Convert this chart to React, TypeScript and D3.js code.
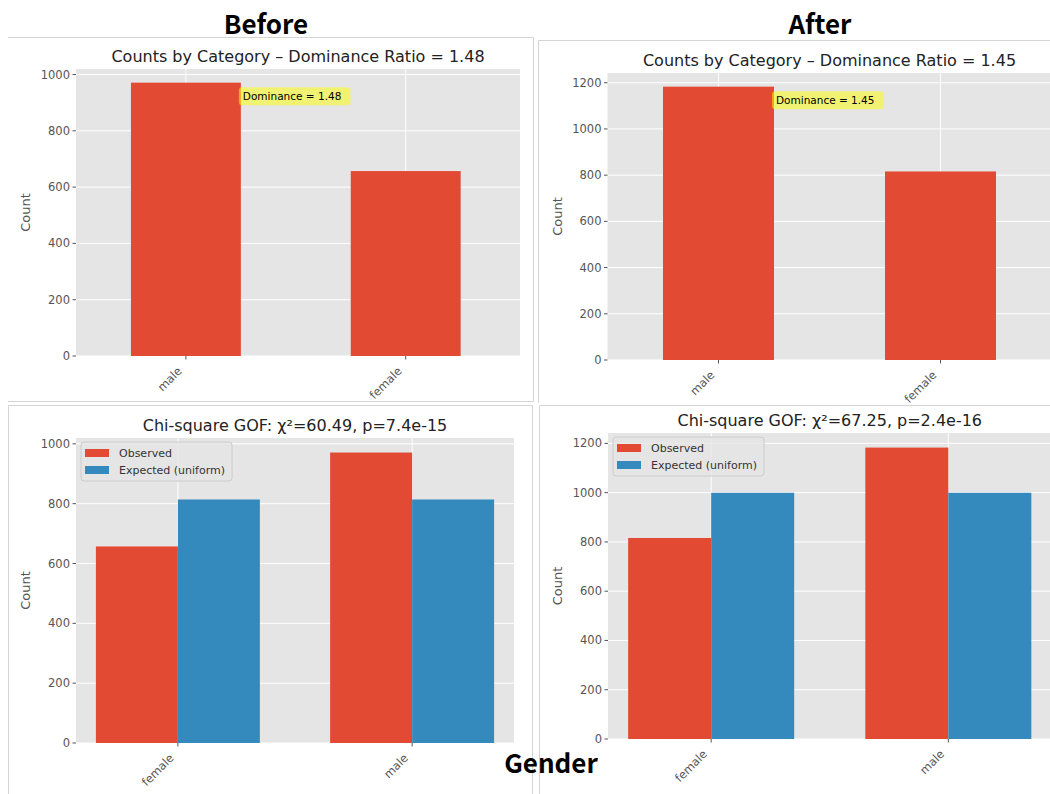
import * as d3 from "d3";

// counts by gender, before and after
const topCategories = ["male", "female"];
const beforeCounts = [971, 657];
const afterCounts = [1183, 816];

// chi-square panels (sorted alphabetically)
const chiCategories = ["female", "male"];
const beforeObserved = [657, 971];
const beforeExpected = [814, 814];
const afterObserved = [816, 1183];
const afterExpected = [999.5, 999.5];

const seriesNames = ["Observed", "Expected (uniform)"];
const colors = ["#E24A33", "#348ABD"];

const beforeRatio = "1.48";
const afterRatio = "1.45";
const beforeChi = "Chi-square GOF: χ²=60.49, p=7.4e-15";
const afterChi = "Chi-square GOF: χ²=67.25, p=2.4e-16";

const FONT = "DejaVu Sans, sans-serif";
const HEAD_FONT = "'Noto Sans CJK SC', 'Noto Sans', sans-serif";

type Box = { left: number; right: number; top: number; bottom: number };

type PanelProps = {
  categories: string[];
  series: number[][];
  title: string;
  box: Box;
  xDomain: [number, number];
  barWidth: number;
  annotation?: string;
  legend?: boolean;
};

function BarPanel({ categories, series, title, box, xDomain, barWidth, annotation, legend }: PanelProps) {
  const x = d3.scaleLinear().domain(xDomain).range([box.left, box.right]);
  const vmax = d3.max(series.flat()) as number;
  const y = d3.scaleLinear().domain([0, vmax * 1.05]).range([box.bottom, box.top]);
  const ticks = y.ticks(5);
  const n = series.length;
  const offset = (j: number) => (j - (n - 1) / 2) * barWidth;
  const unit = x(1) - x(0);

  let ann = null;
  if (annotation) {
    const ax = x(barWidth / 2);
    const ay = y(vmax * 0.95);
    const w = annotation.length * 6.6 + 6;
    ann = (
      <g>
        <rect x={ax - 2} y={ay - 9} width={w} height={18} rx={3} fill="yellow" fillOpacity={0.5} />
        <text x={ax + 2} y={ay} dy="0.35em" fontSize={10.5} fill="#000">
          {annotation}
        </text>
      </g>
    );
  }

  return (
    <g fontFamily={FONT}>
      <rect x={box.left} y={box.top} width={box.right - box.left} height={box.bottom - box.top} fill="#E5E5E5" />
      {ticks.map((t) => (
        <line key={"h" + t} x1={box.left} x2={box.right} y1={y(t)} y2={y(t)} stroke="#fff" strokeWidth={1} />
      ))}
      {categories.map((c, i) => (
        <line key={"v" + c} x1={x(i)} x2={x(i)} y1={box.top} y2={box.bottom} stroke="#fff" strokeWidth={1} />
      ))}
      {series.map((vals, j) =>
        vals.map((v, i) => (
          <rect
            key={j + "-" + i}
            x={x(i + offset(j) - barWidth / 2)}
            y={y(v)}
            width={barWidth * unit}
            height={y(0) - y(v)}
            fill={colors[j]}
          />
        ))
      )}
      {/* y axis */}
      {ticks.map((t) => (
        <g key={"yt" + t}>
          <line x1={box.left - 3.5} x2={box.left} y1={y(t)} y2={y(t)} stroke="#555" />
          <text x={box.left - 6} y={y(t)} dy="0.35em" textAnchor="end" fontSize={11.5} fill="#555">
            {t}
          </text>
        </g>
      ))}
      <text
        transform={`translate(${box.left - 46},${(box.top + box.bottom) / 2}) rotate(-90)`}
        textAnchor="middle"
        fontSize={13}
        fill="#555"
      >
        Count
      </text>
      {/* x axis */}
      {categories.map((c, i) => (
        <g key={"xt" + c}>
          <line x1={x(i)} x2={x(i)} y1={box.bottom} y2={box.bottom + 3.5} stroke="#555" />
          <text
            transform={`translate(${x(i) - 9},${box.bottom + 10}) rotate(-45)`}
            textAnchor="end"
            dy="0.7em"
            fontSize={11.5}
            fill="#555"
          >
            {c}
          </text>
        </g>
      ))}
      <text x={(box.left + box.right) / 2} y={box.top - 7} textAnchor="middle" fontSize={16} fill="#222">
        {title}
      </text>
      {ann}
      {legend && (
        <g transform={`translate(${box.left + 5},${box.top + 4})`}>
          <rect width={151} height={39} rx={3} fill="#E5E5E5" fillOpacity={0.8} stroke="#ccc" />
          {seriesNames.map((s, j) => (
            <g key={s} transform={`translate(0,${7 + j * 17})`}>
              <rect x={4} y={0} width={24} height={8} fill={colors[j]} />
              <text x={38} y={4} dy="0.35em" fontSize={11} fill="#333">
                {s}
              </text>
            </g>
          ))}
        </g>
      )}
    </g>
  );
}

export default function App() {
  return (
    <svg width={1050} height={794} style={{ position: "absolute", left: 0, top: 0, background: "#fff" }}>
      {/* panel frames */}
      <g fill="none" stroke="#d4d4d4" strokeWidth={1}>
        <path d="M8,37.5H533.5V401.5H8" />
        <path d="M1051,40.5H538.5V403" />
        <path d="M8.5,800V405.5H532.5V800" />
        <path d="M539.5,800V405.5H1051" />
      </g>

      <BarPanel
        categories={topCategories}
        series={[beforeCounts]}
        title={`Counts by Category – Dominance Ratio = ${beforeRatio}`}
        box={{ left: 76, right: 520, top: 69, bottom: 356 }}
        xDomain={[-0.5, 1.52]}
        barWidth={0.5}
        annotation={`Dominance = ${beforeRatio}`}
      />
      <BarPanel
        categories={topCategories}
        series={[afterCounts]}
        title={`Counts by Category – Dominance Ratio = ${afterRatio}`}
        box={{ left: 607.5, right: 1051.5, top: 73, bottom: 360 }}
        xDomain={[-0.5, 1.5]}
        barWidth={0.5}
        annotation={`Dominance = ${afterRatio}`}
      />
      <BarPanel
        categories={chiCategories}
        series={[beforeObserved, beforeExpected]}
        title={beforeChi}
        box={{ left: 76, right: 514, top: 438, bottom: 743 }}
        xDomain={[-0.435, 1.435]}
        barWidth={0.35}
        legend
      />
      <BarPanel
        categories={chiCategories}
        series={[afterObserved, afterExpected]}
        title={afterChi}
        box={{ left: 608, right: 1051.5, top: 433, bottom: 739 }}
        xDomain={[-0.435, 1.435]}
        barWidth={0.35}
        legend
      />

      <g fontFamily={HEAD_FONT} fontWeight="bold" fontSize={26} textAnchor="middle" fill="#000">
        <text x={266} y={34}>Before</text>
        <text x={820} y={34}>After</text>
        <text x={551} y={773}>Gender</text>
      </g>
    </svg>
  );
}
